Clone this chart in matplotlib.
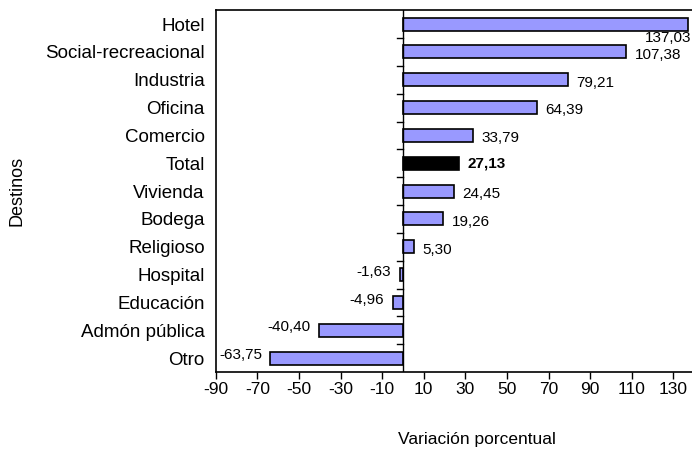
import matplotlib.pyplot as plt
import numpy as np

plt.rcParams['font.family'] = ['Liberation Sans', 'DejaVu Sans']
plt.rcParams['axes.unicode_minus'] = False

destinos = ['Hotel', 'Social-recreacional', 'Industria', 'Oficina', 'Comercio',
            'Total', 'Vivienda', 'Bodega', 'Religioso', 'Hospital', 'Educación',
            'Admón pública', 'Otro']
variacion = [137.03, 107.38, 79.21, 64.39, 33.79, 27.13, 24.45, 19.26, 5.30,
             -1.63, -4.96, -40.40, -63.75]
x_ticks = list(range(-90, 131, 20))

fig = plt.figure(figsize=(6.92, 4.63), dpi=100)
ax = fig.add_axes([0.312, 0.1965, 0.688, 0.7815])

y = np.arange(len(destinos))
colors = ['black' if d == 'Total' else '#9999ff' for d in destinos]
ax.barh(y, variacion, height=0.47, color=colors, edgecolor='black', linewidth=1.2, zorder=3)

ax.set_ylim(len(destinos) - 0.5, -0.5)
ax.set_xlim(-90, 139)
ax.set_yticks(y)
ax.set_yticklabels(destinos, fontsize=13.5)
ax.tick_params(axis='y', length=0, pad=8)
ax.set_xticks(x_ticks)
ax.tick_params(axis='x', length=5, width=1, direction='out', labelsize=12.5, pad=2)

for s in ['left', 'top', 'bottom']:
    ax.spines[s].set_linewidth(1.2)
ax.spines['right'].set_visible(False)

# eje en cero con marcas entre categorias
ax.axvline(0, color='black', linewidth=1, zorder=4)
for b in np.arange(len(destinos) - 1) + 0.5:
    ax.plot([-3, 0], [b, b], color='black', linewidth=1, zorder=4)

for i, (d, v) in enumerate(zip(destinos, variacion)):
    txt = f'{v:.2f}'.replace('.', ',')
    if d == 'Hotel':
        ax.annotate(txt, (138.5, i + 0.5), ha='right', va='center', fontsize=11)
    elif d == 'Total':
        ax.annotate(txt, (v, i), xytext=(6, 0), textcoords='offset points',
                    ha='left', va='center', fontsize=11, fontweight='bold')
    elif v >= 0:
        ax.annotate(txt, (v, i + 0.1), xytext=(6, 0), textcoords='offset points',
                    ha='left', va='center', fontsize=11)
    else:
        ax.annotate(txt, (v, i - 0.1), xytext=(-6, 0), textcoords='offset points',
                    ha='right', va='center', fontsize=11)

ax.set_ylabel('Destinos', fontsize=13)
ax.set_xlabel('Variación porcentual', fontsize=12.5)
ax.yaxis.set_label_coords(-0.399, 0.5)
ax.xaxis.set_label_coords(0.548, -0.165)

fig.savefig('out.png', dpi=100)
